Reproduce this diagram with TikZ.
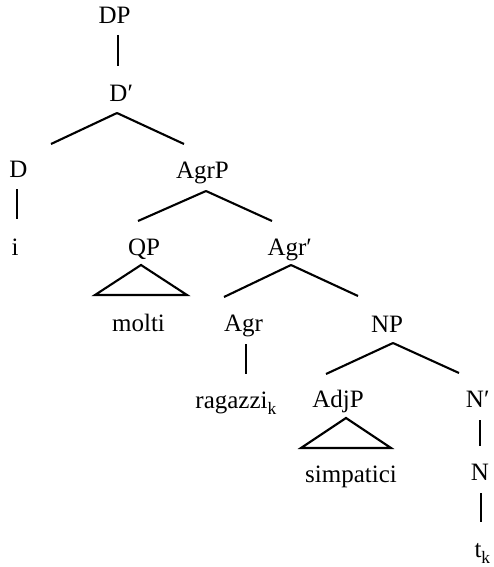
\documentclass[tikz,border=0pt]{standalone}
\usepackage{fontspec}
\setmainfont{Liberation Serif}
\newcommand{\subk}{\rlap{\raisebox{-6pt}{\fontsize{17.5}{17.5}\selectfont k}}}
\newcommand{\pr}{\rlap{′}}
\begin{document}
\begin{tikzpicture}[x=1pt,y=-1pt,
  lab/.style={anchor=base, inner sep=0pt, font=\fontsize{25}{28}\selectfont},
  br/.style={line width=2.1pt, line cap=butt},
  tri/.style={line width=2.1pt, line join=miter}]
\useasboundingbox (0,0) rectangle (493,567);
% nodes
\node[lab] (DP) at (114.5,24) {DP};
\node[lab] (Dbar) at (118.5,102) {D\pr};
\node[lab] (D) at (18.5,177) {D};
\node[lab] (AgrP) at (202.5,178) {AgrP};
\node[lab] (i) at (15,255) {i};
\node[lab] (QP) at (144,255) {QP};
\node[lab] (Agrbar) at (287,255) {Agr\pr};
\node[lab] (molti) at (138.5,331) {molti};
\node[lab] (Agr) at (243.5,331) {Agr};
\node[lab] (NP) at (387,332) {NP};
\node[lab] (ragazzi) at (231.5,408) {ragazzi\subk};
\node[lab] (AdjP) at (338,407) {AdjP};
\node[lab] (Nbar) at (475,407) {N\pr};
\node[lab] (simpatici) at (351,482) {simpatici};
\node[lab] (N) at (480,480) {N};
\node[lab] (t) at (478,557) {t\subk};
% connectors
\draw[br] ([xshift=3.5pt,yshift=-11pt]DP.base) -- ([xshift=-0.5pt,yshift=36pt]Dbar.base);
\draw[br] ([xshift=-1.5pt,yshift=-11pt]Dbar.base) -- ++(-66,31);
\draw[br] ([xshift=-1.5pt,yshift=-11pt]Dbar.base) -- ++(67,31);
\draw[br] ([xshift=-1.5pt,yshift=-12pt]D.base) -- ([xshift=2pt,yshift=36pt]i.base);
\draw[br] ([xshift=3.5pt,yshift=-13pt]AgrP.base) -- ++(-68,30);
\draw[br] ([xshift=3.5pt,yshift=-13pt]AgrP.base) -- ++(66,30);
\draw[tri] ([xshift=-3pt,yshift=-10pt]QP.base) -- ++(-46,30) -- ++(92,0) -- cycle;
\draw[br] ([xshift=4pt,yshift=-10pt]Agrbar.base) -- ++(-67,32);
\draw[br] ([xshift=4pt,yshift=-10pt]Agrbar.base) -- ++(67,31);
\draw[br] ([xshift=2.5pt,yshift=-13pt]Agr.base) -- ([xshift=14.5pt,yshift=34pt]ragazzi.base);
\draw[br] ([xshift=6pt,yshift=-11pt]NP.base) -- ++(-67,31);
\draw[br] ([xshift=6pt,yshift=-11pt]NP.base) -- ++(66,30);
\draw[tri] ([xshift=8pt,yshift=-11pt]AdjP.base) -- ++(-45,30) -- ++(90,0) -- cycle;
\draw[br] ([xshift=5pt,yshift=-13pt]Nbar.base) -- ([yshift=34pt]N.base);
\draw[br] ([xshift=1pt,yshift=-13pt]N.base) -- ([xshift=3pt,yshift=35pt]t.base);
\end{tikzpicture}
\end{document}
